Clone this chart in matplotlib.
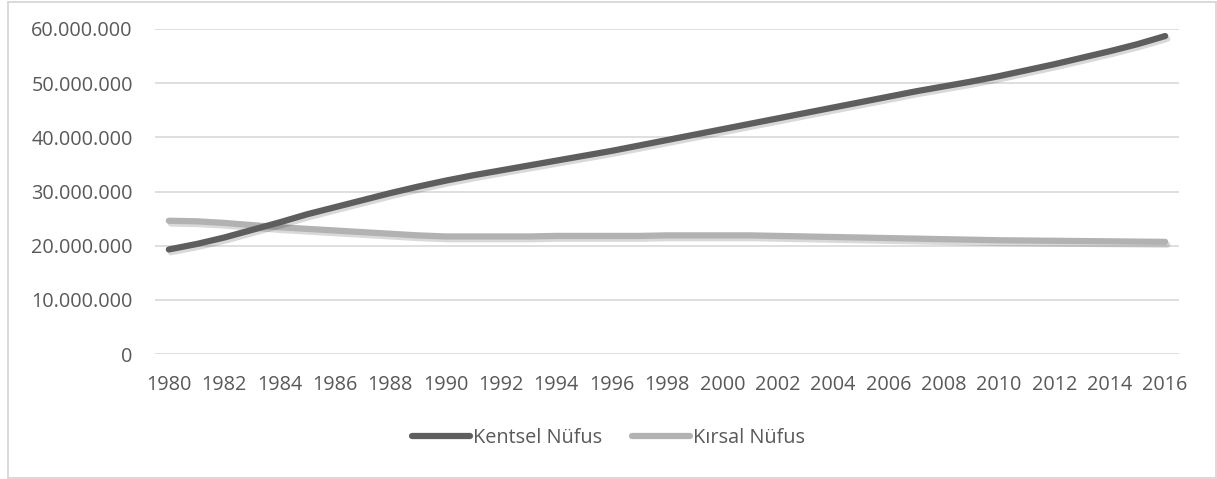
import matplotlib
matplotlib.use("Agg")
import matplotlib.pyplot as plt
import matplotlib.patheffects as pe
from matplotlib.ticker import FuncFormatter
from matplotlib.patches import Rectangle

years = list(range(1980, 2017))
kentsel = [19.3, 20.3, 21.5, 22.9, 24.3, 25.8, 27.1, 28.4, 29.7, 30.9,
           32.0, 33.0, 33.9, 34.8, 35.7, 36.6, 37.5, 38.5, 39.5, 40.5,
           41.5, 42.5, 43.5, 44.5, 45.5, 46.5, 47.5, 48.5, 49.4, 50.3,
           51.3, 52.4, 53.5, 54.7, 55.9, 57.2, 58.7]
kirsal = [24.6, 24.5, 24.2, 23.8, 23.4, 23.1, 22.8, 22.5, 22.2, 21.9,
          21.7, 21.7, 21.7, 21.7, 21.8, 21.8, 21.8, 21.8, 21.9, 21.9,
          21.9, 21.9, 21.8, 21.7, 21.6, 21.5, 21.4, 21.3, 21.2, 21.1,
          21.0, 20.95, 20.9, 20.85, 20.8, 20.75, 20.7]
series_names = ["Kentsel Nüfus", "Kırsal Nüfus"]
xtick_years = list(range(1980, 2017, 2))
yticks = [0, 10e6, 20e6, 30e6, 40e6, 50e6, 60e6]

plt.rcParams['font.family'] = ['Open Sans', 'DejaVu Sans']

fig = plt.figure(figsize=(12.17, 4.79), dpi=100)
fig.patches.append(Rectangle((7.5/1217, 1.5/479), 1208/1217, 476/479, transform=fig.transFigure,
                             fill=False, edgecolor='#d9d9d9', linewidth=1.4))
ax = fig.add_axes([155/1217, 1 - 354/479, (1179 - 155)/1217, (354 - 29)/479])

shadow = [pe.SimpleLineShadow(offset=(1.5, -2), shadow_color='#000000', alpha=0.15), pe.Normal()]
ax.plot(years, [v * 1e6 for v in kentsel], color='#5e5e5e', lw=4.5,
        solid_capstyle='round', label=series_names[0], path_effects=shadow, zorder=3)
ax.plot(years, [v * 1e6 for v in kirsal], color='#b2b2b2', lw=4.5,
        solid_capstyle='round', label=series_names[1], path_effects=shadow, zorder=2)

ax.set_xlim(1979.5, 2016.5)
ax.set_ylim(0, 60e6)
ax.set_xticks(xtick_years)
ax.set_yticks(yticks)
ax.yaxis.set_major_formatter(FuncFormatter(lambda v, p: f"{int(v):,}".replace(",", ".")))
ax.grid(axis='y', color='#d9d9d9', lw=1.2)
ax.set_axisbelow(True)
for s in ax.spines.values():
    s.set_visible(False)
ax.tick_params(length=0, labelsize=14.3, colors='#595959')
ax.tick_params(axis='y', pad=16)
ax.tick_params(axis='x', pad=15)

leg = fig.legend(loc='center', bbox_to_anchor=(0.5, 1 - 438/479), ncol=2, frameon=False,
                 fontsize=14.3, handlelength=2.9, handletextpad=0.15, columnspacing=1.5)
for t in leg.get_texts():
    t.set_color('#595959')
for h in leg.legend_handles:
    h.set_path_effects([])

fig.savefig("out.png", dpi=100)
